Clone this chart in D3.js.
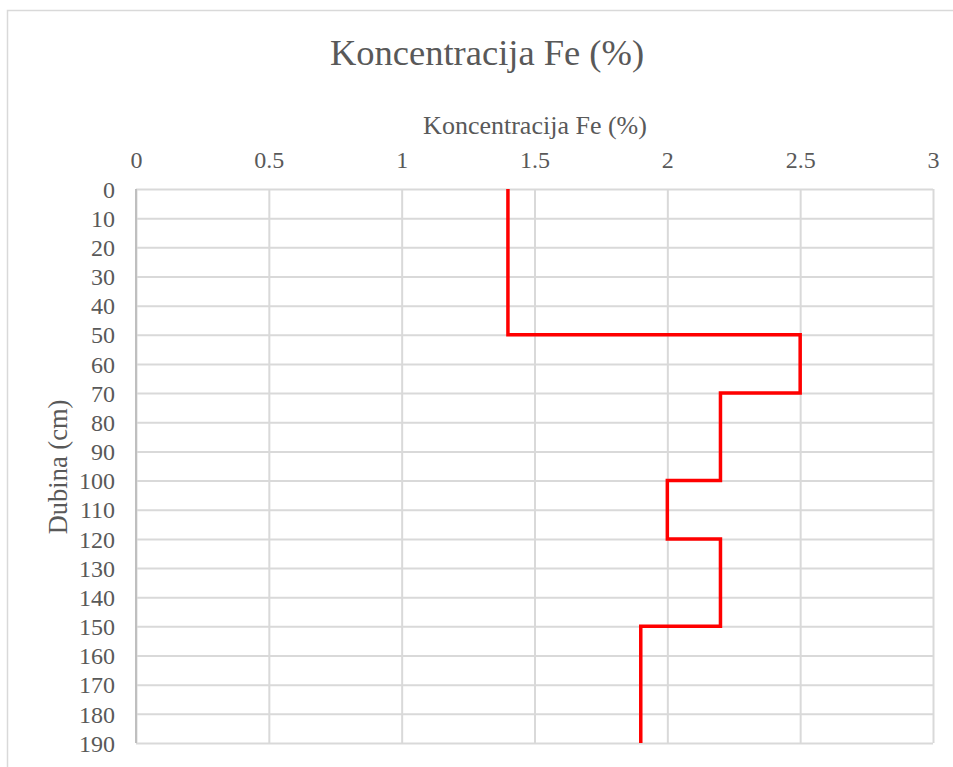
<!DOCTYPE html>
<html>
<head>
<meta charset="utf-8">
<script src="https://cdn.jsdelivr.net/npm/d3@7"></script>
<style>
  body { margin: 0; background: #fff; }
</style>
</head>
<body>
<svg id="chart"></svg>
<script>
// Data: depth profile (cm) vs Fe concentration (%)
const depth = [0, 50, 50, 70, 70, 100, 100, 120, 120, 150, 150, 190];
const fe = [1.4, 1.4, 2.5, 2.5, 2.2, 2.2, 2.0, 2.0, 2.2, 2.2, 1.9, 1.9];
const xTicks = [0, 0.5, 1, 1.5, 2, 2.5, 3];
const yTicks = d3.range(0, 191, 10);

const chartTitle = "Koncentracija Fe (%)";
const xTitle = "Koncentracija Fe (%)";
const yTitle = "Dubina (cm)";

const fontFamily = "Liberation Serif";
const textColor = "#595959";

// SVG configurations
const W = 953, H = 767;
const margin = { top: 189, right: 20, bottom: 24, left: 136 };
const width = W - margin.left - margin.right;
const height = H - margin.top - margin.bottom;

const svg = d3.select("#chart")
              .attr("width", W)
              .attr("height", H)
              .attr("font-family", fontFamily);

// outer chart border
svg.append("rect")
   .attr("x", 7.5)
   .attr("y", 10.5)
   .attr("width", 1000)
   .attr("height", 900)
   .attr("fill", "none")
   .attr("stroke", "#d9d9d9")
   .attr("stroke-width", 1.5);

const g = svg.append("g")
             .attr("transform", `translate(${margin.left},${margin.top})`);

const xScale = d3.scaleLinear().domain([0, 3]).range([0, width]);
const yScale = d3.scaleLinear().domain([0, 190]).range([0, height]);

// Gridlines + tick labels
const xAxis = d3.axisTop(xScale)
                .tickValues(xTicks)
                .tickSize(-height)
                .tickPadding(21)
                .tickFormat(d3.format("~g"));
const yAxis = d3.axisLeft(yScale)
                .tickValues(yTicks)
                .tickSize(-width)
                .tickPadding(21);

g.append("g")
 .attr("class", "xAxis")
 .call(xAxis)
 .attr("font-family", fontFamily)
 .call(s => s.select(".domain").remove())
 .call(s => s.selectAll("line").attr("stroke", "#d9d9d9").attr("stroke-width", 2))
 .call(s => s.selectAll("text").attr("font-size", 24).attr("fill", textColor));

g.append("g")
 .attr("class", "yAxis")
 .call(yAxis)
 .attr("font-family", fontFamily)
 .call(s => s.select(".domain").remove())
 .call(s => s.selectAll("line").attr("stroke", "#d9d9d9").attr("stroke-width", 2))
 .call(s => s.selectAll("text").attr("font-size", 24).attr("fill", textColor).attr("dy", "0.34em"));

// y axis line
g.append("line")
 .attr("x1", 0).attr("x2", 0)
 .attr("y1", 0).attr("y2", height)
 .attr("stroke", "#bfbfbf")
 .attr("stroke-width", 2);

// Step line
const line = d3.line()
               .x((d, i) => xScale(fe[i]))
               .y(d => yScale(d));
g.append("path")
 .datum(depth)
 .attr("fill", "none")
 .attr("stroke", "#ff0000")
 .attr("stroke-width", 3.5)
 .attr("d", line);

// Titles
svg.append("text")
   .attr("x", 487)
   .attr("y", 65)
   .attr("fill", textColor)
   .attr("text-anchor", "middle")
   .attr("font-size", 36.5)
   .text(chartTitle);

svg.append("text")
   .attr("x", 535)
   .attr("y", 134)
   .attr("fill", textColor)
   .attr("text-anchor", "middle")
   .attr("font-size", 26)
   .text(xTitle);

svg.append("text")
   .attr("transform", `translate(67, 467) rotate(-90)`)
   .attr("fill", textColor)
   .attr("text-anchor", "middle")
   .attr("font-size", 26.5)
   .text(yTitle);
</script>
</body>
</html>
